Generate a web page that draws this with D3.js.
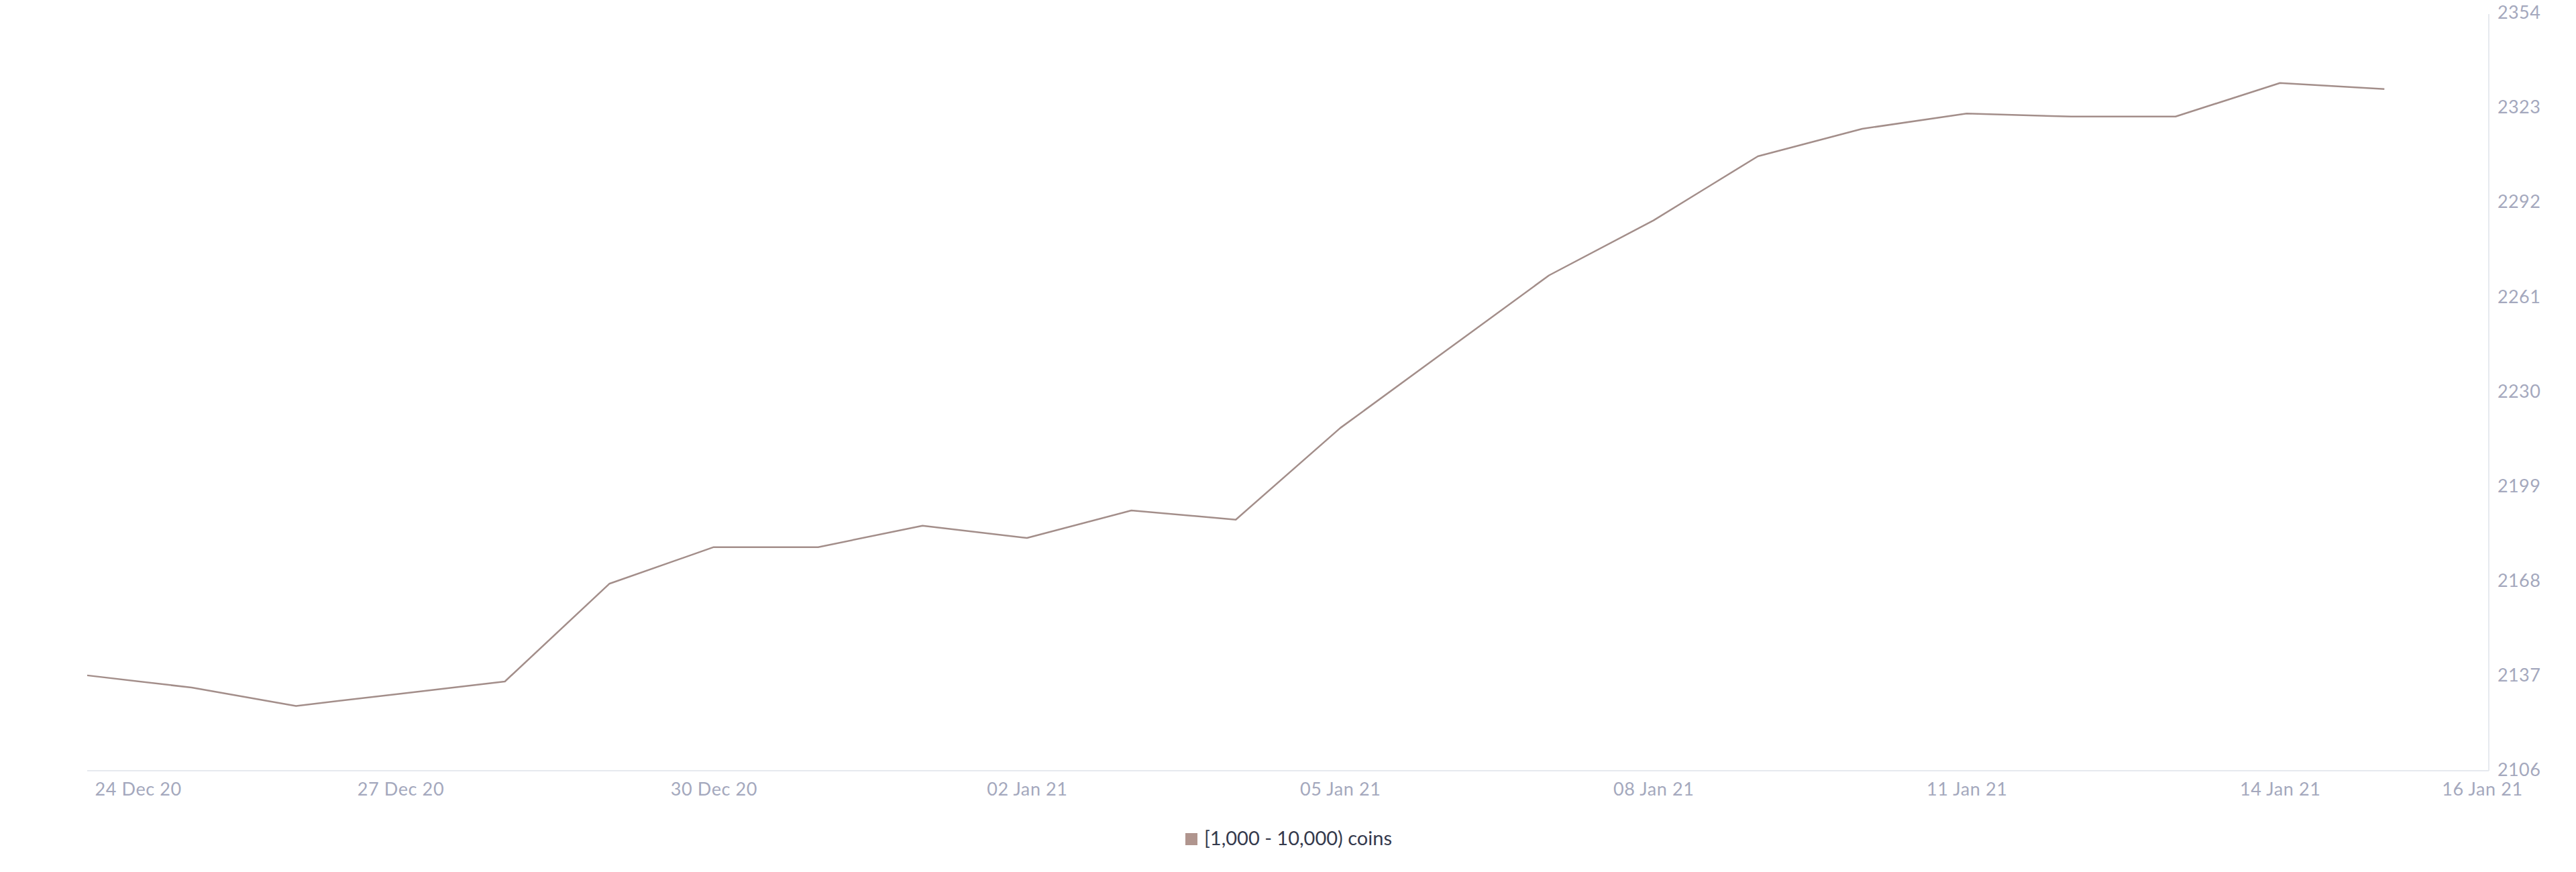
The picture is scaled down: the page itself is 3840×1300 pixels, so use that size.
<!DOCTYPE html>
<html>
<head>
<meta charset="utf-8">
<script src="https://cdn.jsdelivr.net/npm/d3@7"></script>
<style>
  html, body { margin: 0; padding: 0; background: #fff; }
  svg { display: block; }
  text { font-family: Lato, "Open Sans", sans-serif; }
</style>
</head>
<body>
<svg id="chart" width="3840" height="1300"></svg>
<script>
// ---- data ----
const dates = [
  "2020-12-24","2020-12-25","2020-12-26","2020-12-27","2020-12-28","2020-12-29",
  "2020-12-30","2020-12-31","2021-01-01","2021-01-02","2021-01-03","2021-01-04",
  "2021-01-05","2021-01-06","2021-01-07","2021-01-08","2021-01-09","2021-01-10",
  "2021-01-11","2021-01-12","2021-01-13","2021-01-14","2021-01-15"
];
const values = [
  2137, 2133, 2127, 2131, 2135, 2167,
  2179, 2179, 2186, 2182, 2191, 2188,
  2218, 2243, 2268, 2286, 2307, 2316,
  2321, 2320, 2320, 2331, 2329
];
const seriesName = "[1,000 - 10,000) coins";
const yTicks = [2106, 2137, 2168, 2199, 2230, 2261, 2292, 2323, 2354];
const xTickDates = ["2020-12-24","2020-12-27","2020-12-30","2021-01-02","2021-01-05",
                    "2021-01-08","2021-01-11","2021-01-14","2021-01-16"];
const xDomain = ["2020-12-24", "2021-01-16"];

// ---- layout ----
const mLeft = 130, mRight = 3710, mTop = 19, mBottom = 1148;
const lineColor = "#a38e8a";
const axisText = "#a4a8bd";
const gridColor = "#e6e9ef";

const parse = d3.utcParse("%Y-%m-%d");
const fmt = d3.utcFormat("%d %b %y");
const svg = d3.select("#chart");

const x = d3.scaleUtc().domain(xDomain.map(parse)).range([mLeft, mRight]);
const y = d3.scaleLinear().domain([yTicks[0], yTicks[yTicks.length - 1]]).range([mBottom, mTop]);

// frame lines
svg.append("line").attr("x1", mLeft).attr("x2", mRight).attr("y1", mBottom + 1).attr("y2", mBottom + 1)
  .attr("stroke", gridColor).attr("stroke-width", 2);
svg.append("line").attr("x1", mRight).attr("x2", mRight).attr("y1", mTop + 2).attr("y2", mBottom + 1)
  .attr("stroke", gridColor).attr("stroke-width", 2);

// x axis
const xAxis = d3.axisBottom(x)
  .tickValues(xTickDates.map(parse))
  .tickFormat(fmt)
  .tickSize(0)
  .tickPadding(18);
const gx = svg.append("g").attr("transform", `translate(0,${mBottom + 1})`).call(xAxis);
gx.select(".domain").remove();
gx.selectAll("text").attr("fill", axisText).style("font-size", "27px").style("letter-spacing", "0.6px");
gx.selectAll(".tick").filter((d, i) => i === 0).select("text")
  .attr("text-anchor", "start").attr("dx", 11);
gx.selectAll(".tick").filter((d, i, n) => i === n.length - 1).select("text")
  .attr("dx", -10);

// y axis (right)
const yAxis = d3.axisRight(y).tickValues(yTicks).tickFormat(d3.format("d")).tickSize(0).tickPadding(13);
const gy = svg.append("g").attr("transform", `translate(${mRight},0)`).call(yAxis);
gy.select(".domain").remove();
gy.selectAll("text").attr("fill", axisText).style("font-size", "27px").style("letter-spacing", "0.4px");

// line
const data = dates.map((d, i) => ({ date: parse(d), value: values[i] }));
svg.append("path").datum(data)
  .attr("fill", "none")
  .attr("stroke", lineColor)
  .attr("stroke-width", 2.5)
  .attr("stroke-linejoin", "round")
  .attr("d", d3.line().x(d => x(d.date)).y(d => y(d.value)));

// legend
const lg = svg.append("g").attr("transform", "translate(1767,1242)");
lg.append("rect").attr("width", 18).attr("height", 18).attr("fill", "#b0958e");
lg.append("text").attr("x", 28).attr("y", 18).attr("fill", "#353a4d")
  .style("font-size", "29px").text(seriesName);
</script>
</body>
</html>
